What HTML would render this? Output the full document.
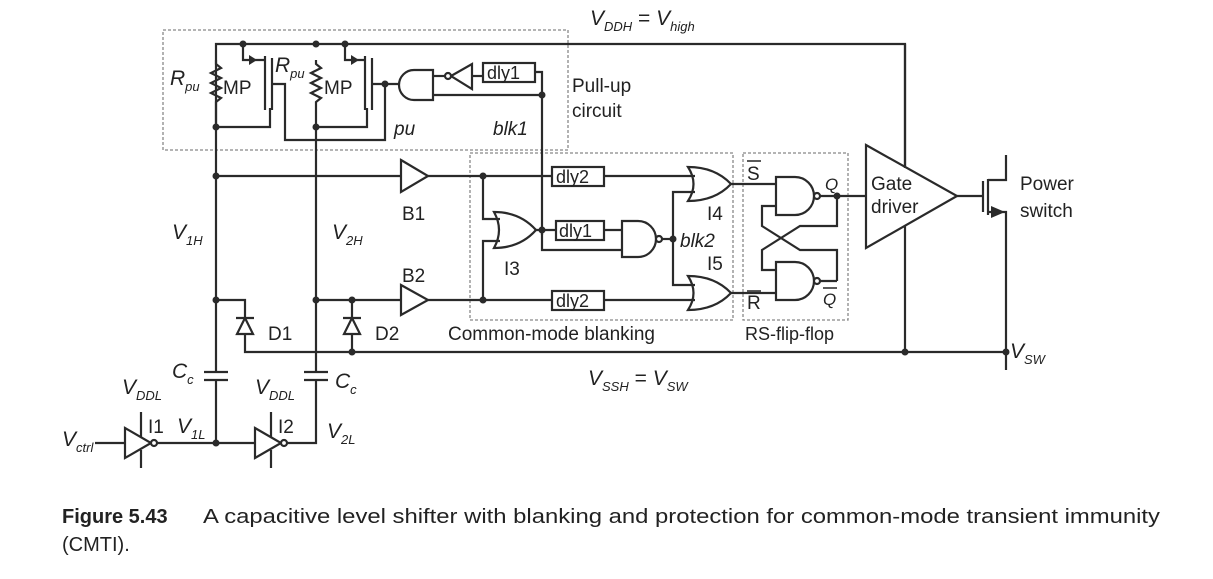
<!DOCTYPE html>
<html><head><meta charset="utf-8"><style>
html,body{margin:0;padding:0;background:#fff;}
svg{display:block;}
text{font-family:"Liberation Sans",Arial,sans-serif;fill:#222;}
.i{font-style:italic;}
</style></head><body>
<svg width="1213" height="579" viewBox="0 0 1213 579" xmlns="http://www.w3.org/2000/svg">
<g fill="none" stroke="#888" stroke-width="1.3" stroke-dasharray="3,2">
<rect x="163" y="30" width="405" height="120"/>
<rect x="470" y="153" width="263" height="167"/>
<rect x="743" y="153" width="105" height="167"/>
</g>
<g fill="none" stroke="#2a2a2a" stroke-width="2.2" stroke-linejoin="miter">
<polyline points="216,127 216,44 905,44 905,352"/>
<polyline points="216,60 216,64 221,68 211,73 221,78 211,83 221,88 211,93 221,98 216,102 216,127 270,127 270,108"/>
<polyline points="316,60 316,64 321,68 311,73 321,78 311,83 321,88 311,93 321,98 316,102 316,127 367,127 367,108"/>
<polyline points="243,44 243,60 265,60"/>
<line x1="265" y1="56" x2="265" y2="110"/>
<line x1="272" y1="58" x2="272" y2="110"/>
<polyline points="272,84 285,84 285,140 385,140 385,84"/>
<polyline points="345,44 345,60 365,60"/>
<line x1="365" y1="56" x2="365" y2="110"/>
<line x1="372" y1="58" x2="372" y2="110"/>
<line x1="372" y1="84" x2="400" y2="84"/>
<path d="M433,70 L414,70 A15,15 0 0 0 414,100 L433,100 Z"/>
<line x1="433" y1="76" x2="445" y2="76"/>
<line x1="433" y1="95" x2="542" y2="95"/>
<path d="M451,76 L472,64 L472,89 Z"/>
<circle cx="448" cy="76" r="3" fill="#fff"/>
<line x1="472" y1="76" x2="483" y2="76"/>
<rect x="483" y="63" width="52" height="19"/>
<polyline points="535,72 542,72 542,235"/>
<line x1="216" y1="127" x2="216" y2="372"/>
<line x1="316" y1="127" x2="316" y2="372"/>
<line x1="216" y1="380" x2="216" y2="443"/>
<polyline points="316,380 316,443 282,443"/>
<line x1="204" y1="372" x2="228" y2="372"/><line x1="204" y1="380" x2="228" y2="380"/>
<line x1="304" y1="372" x2="328" y2="372"/><line x1="304" y1="380" x2="328" y2="380"/>
<line x1="216" y1="176" x2="401" y2="176"/>
<path d="M401,160 L428,176 L401,192 Z"/>
<line x1="428" y1="176" x2="552" y2="176"/>
<rect x="552" y="167" width="52" height="19"/>
<line x1="604" y1="176" x2="695" y2="176"/>
<polyline points="216,300 245,300 245,352 1006,352"/>
<line x1="316" y1="300" x2="401" y2="300"/>
<path d="M401,285 L428,300 L401,315 Z"/>
<line x1="428" y1="300" x2="552" y2="300"/>
<rect x="552" y="291" width="52" height="19"/>
<line x1="604" y1="300" x2="695" y2="300"/>
<polyline points="352,300 352,352"/>
<path d="M237,334 L253,334 L245,318 Z" fill="#fff"/><line x1="236" y1="318" x2="254" y2="318"/>
<path d="M344,334 L360,334 L352,318 Z" fill="#fff"/><line x1="343" y1="318" x2="361" y2="318"/>
<polyline points="483,176 483,219 500,219"/>
<polyline points="483,300 483,241 500,241"/>
<path d="M494,212 Q520,212 536,230 Q520,248 494,248 Q504,230 494,212 Z"/>
<line x1="536" y1="230" x2="556" y2="230"/>
<rect x="556" y="221" width="48" height="19"/>
<line x1="604" y1="230" x2="622" y2="230"/>
<polyline points="542,230 542,250 622,250"/>
<path d="M622,221 L638,221 A18,18 0 0 1 638,257 L622,257 Z"/>
<circle cx="659" cy="239" r="3" fill="#fff"/>
<line x1="662" y1="239" x2="673" y2="239"/>
<polyline points="695,192 673,192 673,285 695,285"/>
<path d="M688,167 Q715,167 731,184 Q715,201 688,201 Q699,184 688,167 Z"/>
<path d="M688,276 Q715,276 731,293 Q715,310 688,310 Q699,293 688,276 Z"/>
<line x1="731" y1="184" x2="776" y2="184"/>
<line x1="731" y1="293" x2="776" y2="293"/>
<path d="M776,177 L795,177 A19,19 0 0 1 795,215 L776,215 Z"/>
<path d="M776,262 L795,262 A19,19 0 0 1 795,300 L776,300 Z"/>
<circle cx="817" cy="196" r="3" fill="#fff"/>
<circle cx="817" cy="281" r="3" fill="#fff"/>
<line x1="820" y1="196" x2="866" y2="196"/>
<line x1="820" y1="281" x2="837" y2="281"/>
<polyline points="837,196 837,226 800,226 762,250 762,270 776,270"/>
<polyline points="837,281 837,250 800,250 762,226 762,206 776,206"/>
<path d="M866,145 L957,196 L866,248 Z" fill="#fff"/>
<line x1="905" y1="44" x2="905" y2="168"/>
<line x1="957" y1="196" x2="983" y2="196"/>
<line x1="983" y1="181" x2="983" y2="212"/>
<line x1="988" y1="179" x2="988" y2="215"/>
<polyline points="1006,155 1006,180 988,180"/>
<polyline points="988,212 1006,212 1006,370"/>
<line x1="95" y1="443" x2="125" y2="443"/>
<path d="M125,428 L151,443 L125,458 Z"/>
<circle cx="154" cy="443" r="3" fill="#fff"/>
<line x1="141" y1="412" x2="141" y2="437"/><line x1="141" y1="450" x2="141" y2="468"/>
<line x1="157" y1="443" x2="255" y2="443"/>
<path d="M255,428 L281,443 L255,458 Z"/>
<circle cx="284" cy="443" r="3" fill="#fff"/>
<line x1="271" y1="412" x2="271" y2="437"/><line x1="271" y1="450" x2="271" y2="468"/>
</g>
<path d="M1005,212 L991,206 L991,218 Z" fill="#2a2a2a"/>
<path d="M257,60 L249,55 L249,65 Z" fill="#2a2a2a"/>
<path d="M359,60 L351,55 L351,65 Z" fill="#2a2a2a"/>
<g fill="#2a2a2a">
<circle cx="243" cy="44" r="3.5"/><circle cx="316" cy="44" r="3.5"/><circle cx="345" cy="44" r="3.5"/>
<circle cx="216" cy="127" r="3.5"/><circle cx="316" cy="127" r="3.5"/>
<circle cx="385" cy="84" r="3.5"/><circle cx="542" cy="95" r="3.5"/>
<circle cx="216" cy="176" r="3.5"/><circle cx="216" cy="300" r="3.5"/><circle cx="316" cy="300" r="3.5"/><circle cx="352" cy="300" r="3.5"/>
<circle cx="352" cy="352" r="3.5"/>
<circle cx="483" cy="176" r="3.5"/><circle cx="483" cy="300" r="3.5"/>
<circle cx="542" cy="230" r="3.5"/><circle cx="673" cy="239" r="3.5"/>
<circle cx="837" cy="196" r="3.5"/>
<circle cx="905" cy="352" r="3.5"/><circle cx="1006" cy="352" r="3.5"/>
<circle cx="216" cy="443" r="3.5"/>
</g>
<g font-size="19">
<text x="572" y="92">Pull-up</text>
<text x="572" y="117">circuit</text>
<text x="223" y="94">MP</text><text x="324" y="94">MP</text>
<text x="487" y="79" font-size="18">dly1</text>
<text x="556" y="183" font-size="18">dly2</text>
<text x="559" y="237" font-size="18">dly1</text>
<text x="556" y="307" font-size="18">dly2</text>
<text x="402" y="220">B1</text>
<text x="402" y="282">B2</text>
<text x="504" y="275">I3</text>
<text x="707" y="220">I4</text>
<text x="707" y="270">I5</text>
<text x="680" y="247" class="i">blk2</text>
<text x="394" y="135" class="i">pu</text>
<text x="493" y="135" class="i">blk1</text>
<text x="448" y="340">Common-mode blanking</text>
<text x="745" y="340" font-size="18">RS-flip-flop</text>
<text x="268" y="340">D1</text>
<text x="375" y="340">D2</text>
<text x="871" y="190">Gate</text>
<text x="871" y="213">driver</text>
<text x="1020" y="190">Power</text>
<text x="1020" y="217">switch</text>
<text x="148" y="433">I1</text><text x="278" y="433">I2</text>
<text x="747" y="180" font-size="19">S</text><line x1="747" y1="161" x2="761" y2="161" stroke="#222" stroke-width="1.5"/>
<text x="747" y="309" font-size="19">R</text><line x1="747" y1="291" x2="761" y2="291" stroke="#222" stroke-width="1.5"/>
<text x="825" y="190" font-size="17" class="i">Q</text>
<text x="823" y="305" font-size="17" class="i">Q</text><line x1="823" y1="288" x2="837" y2="288" stroke="#222" stroke-width="1.5"/>
</g>
<g class="i" font-size="21">
<text x="170" y="85">R<tspan font-size="13" dy="6">pu</tspan></text>
<text x="275" y="72">R<tspan font-size="13" dy="6">pu</tspan></text>
<text x="172" y="239">V<tspan font-size="13" dy="6">1H</tspan></text>
<text x="332" y="239">V<tspan font-size="13" dy="6">2H</tspan></text>
<text x="172" y="378">C<tspan font-size="13" dy="6">c</tspan></text>
<text x="335" y="388">C<tspan font-size="13" dy="6">c</tspan></text>
<text x="122" y="394">V<tspan font-size="13" dy="6">DDL</tspan></text>
<text x="255" y="394">V<tspan font-size="13" dy="6">DDL</tspan></text>
<text x="177" y="433">V<tspan font-size="13" dy="6">1L</tspan></text>
<text x="327" y="438">V<tspan font-size="13" dy="6">2L</tspan></text>
<text x="62" y="446">V<tspan font-size="13" dy="6">ctrl</tspan></text>
<text x="1010" y="358">V<tspan font-size="13" dy="6">SW</tspan></text>
<text x="590" y="25">V<tspan font-size="13" dy="6">DDH</tspan><tspan dy="-6" font-style="normal"> = </tspan>V<tspan font-size="13" dy="6">high</tspan></text>
<text x="588" y="385">V<tspan font-size="13" dy="6">SSH</tspan><tspan dy="-6" font-style="normal"> = </tspan>V<tspan font-size="13" dy="6">SW</tspan></text>
</g>
<text x="62" y="523" font-size="20" font-weight="bold" fill="#111">Figure 5.43</text>
<text x="203" y="523" font-size="20" fill="#111" textLength="957" lengthAdjust="spacingAndGlyphs">A capacitive level shifter with blanking and protection for common-mode transient immunity</text>
<text x="62" y="551" font-size="20" fill="#111">(CMTI).</text>
</svg>
</body></html>
